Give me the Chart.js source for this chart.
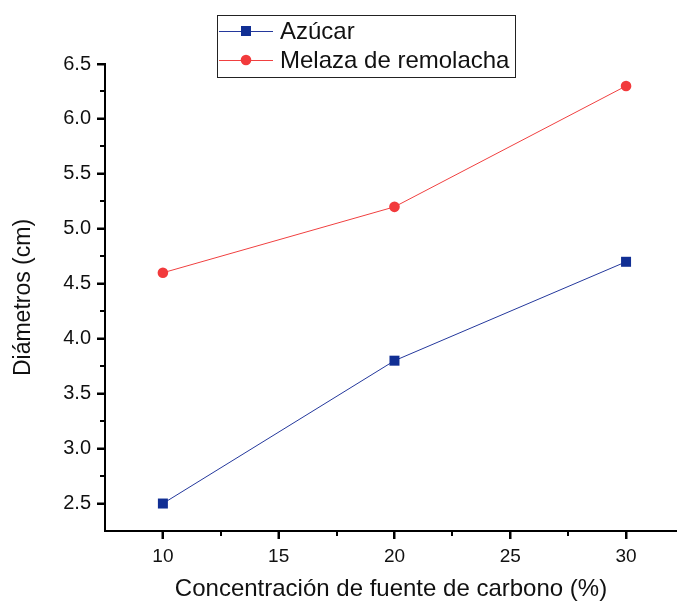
<!DOCTYPE html>
<html>
<head>
<meta charset="utf-8">
<script src="https://cdn.jsdelivr.net/npm/chart.js@4/dist/chart.umd.min.js"></script>
<style>
  html, body { margin: 0; padding: 0; background: #fff; overflow: hidden; }
  #wrap { width: 677px; height: 604px; }
</style>
</head>
<body>
<div id="wrap"><canvas id="diamChart"></canvas></div>
<script>
// data
var concentracion = [10, 20, 30];
var azucar = [2.5, 3.8, 4.7];
var melaza = [4.6, 5.2, 6.3];
var xTicks = [10, 15, 20, 25, 30];
var yTicks = [2.5, 3.0, 3.5, 4.0, 4.5, 5.0, 5.5, 6.0, 6.5];

var FONT = "'Liberation Sans', Arial, sans-serif";

function toPoints(xs, ys) {
    return xs.map(function (x, i) { return { x: x, y: ys[i] }; });
}

// Origin style ticks: major 8px, minor 5px, both pointing outward
var axisTicks = {
    id: 'axisTicks',
    afterDraw: function (chart) {
        var ctx = chart.ctx;
        var xs = chart.scales.x, ys = chart.scales.y;
        var area = chart.chartArea;
        ctx.save();
        ctx.strokeStyle = '#000';
        ctx.lineWidth = 2;
        ctx.beginPath();
        xTicks.forEach(function (t) {
            var px = Math.round(xs.getPixelForValue(t));
            ctx.moveTo(px, area.bottom);
            ctx.lineTo(px, area.bottom + 8);
            if (t + 2.5 <= xs.max) {
                var pm = Math.round(xs.getPixelForValue(t + 2.5));
                ctx.moveTo(pm, area.bottom);
                ctx.lineTo(pm, area.bottom + 5);
            }
        });
        yTicks.forEach(function (t, j) {
            var py = Math.round(ys.getPixelForValue(t));
            ctx.moveTo(area.left, py);
            ctx.lineTo(area.left - 8, py);
            if (j < yTicks.length - 1) {
                var pm = Math.round(ys.getPixelForValue(t + 0.25));
                ctx.moveTo(area.left, pm);
                ctx.lineTo(area.left - 5, pm);
            }
        });
        ctx.stroke();
        ctx.restore();
    }
};

// boxed legend like the original
var boxLegend = {
    id: 'boxLegend',
    afterDraw: function (chart) {
        var ctx = chart.ctx;
        ctx.save();
        ctx.strokeStyle = '#222';
        ctx.lineWidth = 1;
        ctx.strokeRect(217.5, 15.5, 298, 62);
        ctx.font = '24px ' + FONT;
        ctx.textBaseline = 'middle';
        ctx.textAlign = 'left';
        chart.data.datasets.forEach(function (ds, i) {
            var y = 31 + i * 29;
            ctx.strokeStyle = ds.borderColor;
            ctx.lineWidth = 1;
            ctx.beginPath();
            ctx.moveTo(219, y + 0.5);
            ctx.lineTo(273, y + 0.5);
            ctx.stroke();
            ctx.fillStyle = ds.pointBackgroundColor;
            ctx.beginPath();
            if (ds.pointStyle === 'rect') {
                ctx.rect(241, y - 5, 10, 10);
            } else {
                ctx.arc(246, y, 5.3, 0, Math.PI * 2);
            }
            ctx.fill();
            ctx.fillStyle = '#111';
            ctx.fillText(ds.label, 280, y + 1);
        });
        ctx.restore();
    }
};

var diamChart = new Chart('diamChart', {
    type: 'line',
    data: {
        datasets: [{
            label: 'Azúcar',
            data: toPoints(concentracion, azucar),
            borderColor: '#24389c',
            borderWidth: 1,
            pointStyle: 'rect',
            pointRadius: 7.07,
            pointBackgroundColor: '#112f94',
            pointBorderWidth: 0
        }, {
            label: 'Melaza de remolacha',
            data: toPoints(concentracion, melaza),
            borderColor: '#f04040',
            borderWidth: 1,
            pointStyle: 'circle',
            pointRadius: 5.3,
            pointBackgroundColor: '#f23a3c',
            pointBorderWidth: 0
        }]
    },
    options: {
        responsive: true,
        maintainAspectRatio: false,
        animation: false,
        layout: { autoPadding: false, padding: { left: 0, right: 0, top: 64, bottom: 0 } },
        plugins: {
            legend: { display: false },
            tooltip: { enabled: false }
        },
        scales: {
            x: {
                type: 'linear',
                min: 7.5,
                max: 32.2,
                afterBuildTicks: function (scale) {
                    scale.ticks = xTicks.map(function (v) { return { value: v }; });
                },
                afterFit: function (scale) {
                    scale.height = 73;
                },
                grid: {
                    drawOnChartArea: false,
                    tickLength: 8,
                    tickColor: '#000',
                    tickWidth: 2
                },
                border: { display: true, color: '#000', width: 2 },
                ticks: {
                    color: '#111',
                    padding: 6,
                    maxRotation: 0,
                    font: { family: FONT, size: 19 }
                },
                title: {
                    display: true,
                    text: 'Concentración de fuente de carbono (%)',
                    color: '#111',
                    padding: { top: 0, bottom: 0 },
                    font: { family: FONT, size: 24 }
                }
            },
            y: {
                type: 'linear',
                min: 2.25,
                max: 6.5,
                afterBuildTicks: function (scale) {
                    scale.ticks = yTicks.map(function (v) { return { value: v }; });
                },
                afterFit: function (scale) {
                    scale.width = 105;
                },
                grid: {
                    drawOnChartArea: false,
                    tickLength: 8,
                    tickColor: '#000',
                    tickWidth: 2
                },
                border: { display: true, color: '#000', width: 2 },
                ticks: {
                    color: '#111',
                    padding: 6,
                    font: { family: FONT, size: 20 },
                    callback: function (v) { return v.toFixed(1); }
                },
                title: {
                    display: true,
                    text: 'Diámetros (cm)',
                    color: '#111',
                    padding: { top: 10, bottom: 0 },
                    font: { family: FONT, size: 23 }
                }
            }
        }
    },
    plugins: [axisTicks, boxLegend]
});
</script>
</body>
</html>
